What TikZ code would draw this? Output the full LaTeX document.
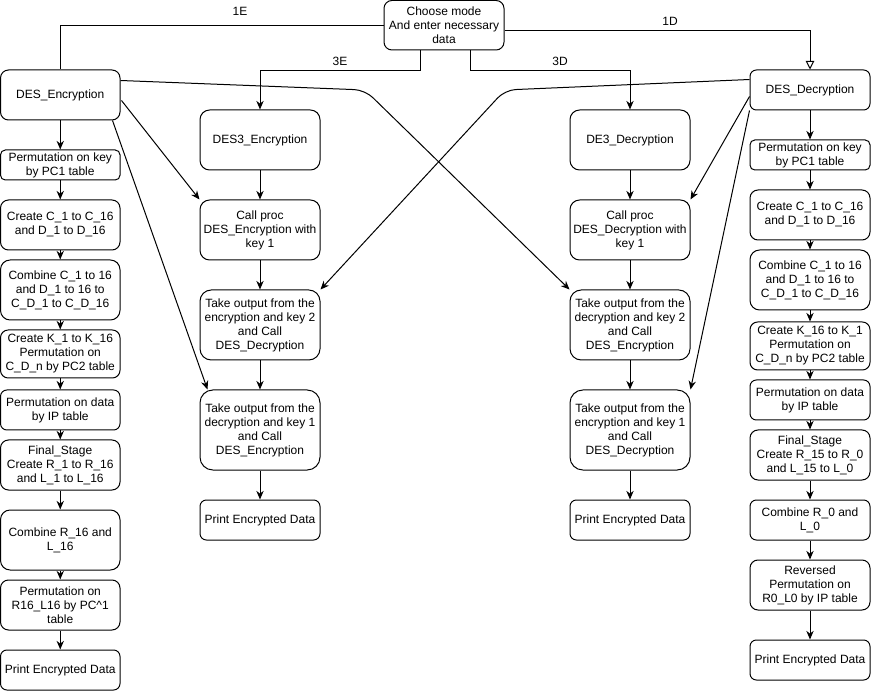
\documentclass[tikz,border=0pt]{standalone}
\usepackage{fontspec}
\setmainfont{Liberation Sans}
\usetikzlibrary{arrows.meta,calc}

% A rounded flow box given by its corners (x1,y1) and (x2,y2), in picture units
\newcommand\flowbox[6]{%
  \pgfmathsetmacro\fbw{(#4-#2)*0.75}%
  \pgfmathsetmacro\fbh{(#5-#3)*0.75}%
  \pgfmathsetmacro\fbr{min(#4-#2,#5-#3)*0.75*0.16}%
  \node[box, minimum width=\fbw pt, minimum height=\fbh pt,
        rounded corners=\fbr pt] (#1) at ({(#2+#4)/2},{(#3+#5)/2}) {#6};%
}

\tikzset{
  box/.style={draw, line width=0.75pt, inner sep=0pt, align=center,
              font=\fontsize{9}{10.5}\selectfont},
  lbl/.style={inner sep=0pt, font=\fontsize{9}{10.5}\selectfont},
  link/.style={line width=0.75pt},
  arr/.style={link, -{Stealth[length=6.5pt,width=5.5pt]}},
  openarr/.style={link, -{Triangle[open,length=6.5pt,width=6.5pt]}},
}

\begin{document}
\begin{tikzpicture}[x=0.75pt, y=-0.75pt]
\useasboundingbox (0,0) rectangle (871,691);

% mode selection
\flowbox{choose}{384}{0.5}{504}{50}{Choose mode\\And enter necessary\\data}

% entry points of each mode
\flowbox{desE}{0.5}{70}{120}{120}{DES\_Encryption}
\flowbox{desD}{750}{70}{870}{110}{DES\_Decryption}
\flowbox{des3}{200}{110}{320}{170}{DES3\_Encryption}
\flowbox{de3}{570}{110}{690}{170}{DE3\_Decryption}

% triple DES encryption
\flowbox{ecall}{200}{200}{320}{260}{Call proc\\DES\_Encryption with\\key 1}
\flowbox{etwo}{200}{290}{320}{360}{Take output from the\\encryption and key 2\\and Call\\DES\_Decryption}
\flowbox{eone}{200}{390}{320}{470}{Take output from the\\decryption and key 1\\and Call\\DES\_Encryption}
\flowbox{eprint}{200}{500}{320}{540}{Print Encrypted Data}

% triple DES decryption
\flowbox{dcall}{570}{200}{690}{260}{Call proc\\DES\_Decryption with\\key 1}
\flowbox{dtwo}{570}{290}{690}{360}{Take output from the\\decryption and key 2\\and Call\\DES\_Encryption}
\flowbox{done}{570}{390}{690}{470}{Take output from the\\encryption and key 1\\and Call\\DES\_Decryption}
\flowbox{dprint}{570}{500}{690}{540}{Print Encrypted Data}

% single DES encryption steps
\flowbox{la}{0.5}{150}{120}{180}{Permutation on key\\by PC1 table}
\flowbox{lb}{0.5}{200}{120}{250}{Create C\_1 to C\_16\\and D\_1 to D\_16}
\flowbox{lc}{0.5}{260}{120}{320}{Combine C\_1 to 16\\and D\_1 to 16 to\\C\_D\_1 to C\_D\_16}
\flowbox{ld}{0.5}{330}{120}{378}{Create K\_1 to K\_16\\Permutation on\\C\_D\_n by PC2 table}
\flowbox{le}{0.5}{390}{120}{430}{Permutation on data\\by IP table}
\flowbox{lf}{0.5}{440}{120}{490}{Final\_Stage\\Create R\_1 to R\_16\\and L\_1 to L\_16}
\flowbox{lg}{0.5}{510}{120}{570}{Combine R\_16 and\\L\_16}
\flowbox{lh}{0.5}{580}{120}{630}{Permutation on\\R16\_L16 by PC\textasciicircum1\\table}
\flowbox{li}{0.5}{650}{120}{690}{Print Encrypted Data}

% single DES decryption steps
\flowbox{ra}{750}{140}{870}{170}{Permutation on key\\by PC1 table}
\flowbox{rb}{750}{190}{870}{240}{Create C\_1 to C\_16\\and D\_1 to D\_16}
\flowbox{rc}{750}{250}{870}{310}{Combine C\_1 to 16\\and D\_1 to 16 to\\C\_D\_1 to C\_D\_16}
\flowbox{rd}{750}{322}{870}{370}{Create K\_16 to K\_1\\Permutation on\\C\_D\_n by PC2 table}
\flowbox{re}{750}{380}{870}{420}{Permutation on data\\by IP table}
\flowbox{rf}{750}{430}{870}{480}{Final\_Stage\\Create R\_15 to R\_0\\and L\_15 to L\_0}
\flowbox{rg}{750}{500}{870}{540}{Combine R\_0 and\\L\_0}
\flowbox{rh}{750}{560}{870}{610}{Reversed\\Permutation on\\R0\_L0 by IP table}
\flowbox{ri}{750}{640}{870}{680}{Print Encrypted Data}

% mode branches
\draw[link] (choose.west) -| (desE.north);
\draw[openarr] ($(choose.east)+(0,5)$) -| (desD.north);
\draw[arr] ($(choose.south)+(-24,0)$) -- ++(0,20) -| (des3.north);
\draw[arr] ($(choose.south)+(26,0)$) -- ++(0,20) -| (de3.north);
\node[lbl] (t1E) at (240,11) {1E};
\node[lbl] (t1D) at (670,21) {1D};
\node[lbl] (t3E) at (340,61) {3E};
\node[lbl] (t3D) at (560,61) {3D};

% vertical flows
\foreach \a/\b in {des3/ecall, ecall/etwo, etwo/eone, eone/eprint,
                   de3/dcall, dcall/dtwo, dtwo/done, done/dprint,
                   desE/la, la/lb, lb/lc, lc/ld, ld/le, le/lf, lf/lg, lg/lh, lh/li,
                   desD/ra, ra/rb, rb/rc, rc/rd, rd/re, re/rf, rf/rg, rg/rh, rh/ri}
  \draw[arr] (\a) -- (\b);

% calls into the single DES procedures
\coordinate (bendE) at (365,90);
\coordinate (bendD) at (505,90);
\draw[arr, rounded corners=8pt] ($(desE.north east)+(0,11)$) -- (bendE) -- (dtwo.north west);
\draw[arr, rounded corners=8pt] ($(desD.north west)+(0,10)$) -- (bendD) -- (etwo.north east);
\draw[arr] ($(desE.north east)+(1,31)$) -- (ecall.north west);
\draw[arr] ($(desE.south east)+(-8,0)$) -- ($(eone.north west)+(8,0)$);
\draw[arr] ($(desD.north west)+(0,27)$) -- (dcall.north east);
\draw[arr] (desD.south west) -- (done.north east);
\end{tikzpicture}
\end{document}
